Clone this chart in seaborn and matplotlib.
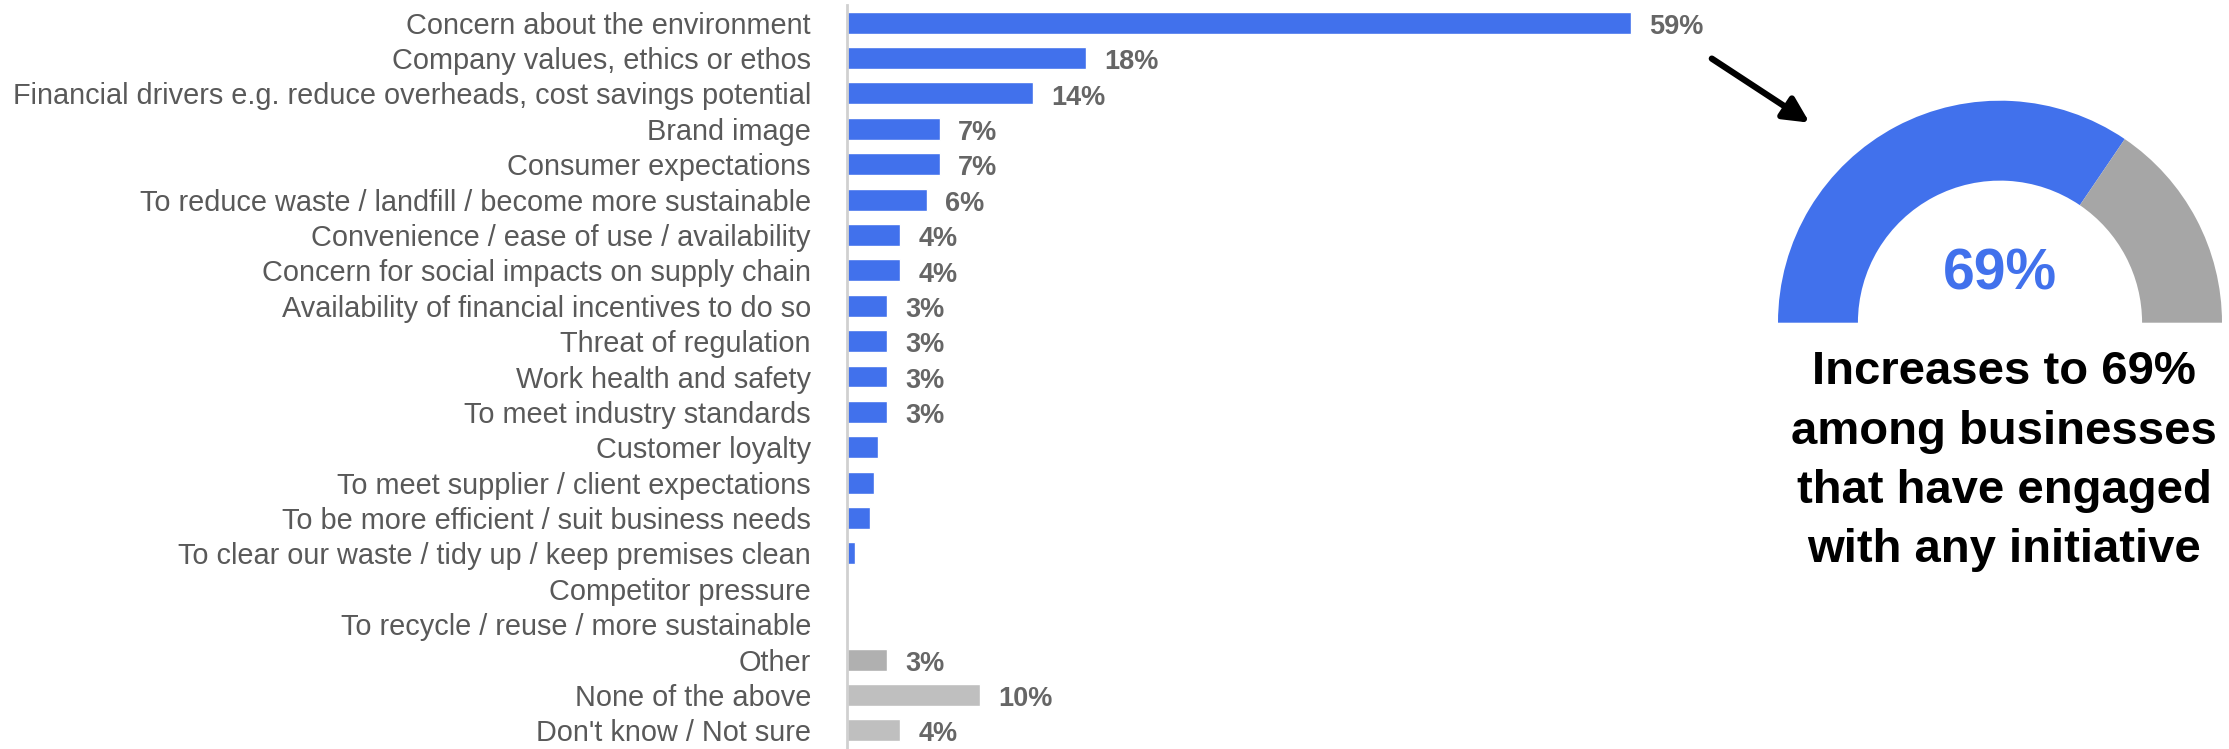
import matplotlib
matplotlib.use("Agg")
import matplotlib.pyplot as plt
import seaborn as sns
import pandas as pd

sns.set_theme(style="white")
plt.rcParams["font.family"] = ["Liberation Sans", "DejaVu Sans"]

# Reasons for taking action (% of businesses)
categories = [
    "Concern about the environment",
    "Company values, ethics or ethos",
    "Financial drivers e.g. reduce overheads, cost savings potential",
    "Brand image",
    "Consumer expectations",
    "To reduce waste / landfill / become more sustainable",
    "Convenience / ease of use / availability",
    "Concern for social impacts on supply chain",
    "Availability of financial incentives to do so",
    "Threat of regulation",
    "Work health and safety",
    "To meet industry standards",
    "Customer loyalty",
    "To meet supplier / client expectations",
    "To be more efficient / suit business needs",
    "To clear our waste / tidy up / keep premises clean",
    "Competitor pressure",
    "To recycle / reuse / more sustainable",
    "Other",
    "None of the above",
    "Don't know / Not sure",
]
values = [59, 18, 14, 7, 7, 6, 4, 4, 3, 3, 3, 3, 2.3, 2.0, 1.7, 0.6, 0, 0, 3, 10, 4]
value_labels = ["59%", "18%", "14%", "7%", "7%", "6%", "4%", "4%", "3%", "3%",
                "3%", "3%", "", "", "", "", "", "", "3%", "10%", "4%"]

# Gauge: share among businesses engaged with any initiative
gauge_values = [69, 31]
gauge_label = "69%"
gauge_text = ["Increases to 69%", "among businesses",
              "that have engaged", "with any initiative"]

BLUE = "#4171EC"
bar_colors = [BLUE] * 18 + ["#B0B0B0", "#BFBFBF", "#BFBFBF"]

W, H = 2229, 749
fig = plt.figure(figsize=(W / 100, H / 100), dpi=100)

# ---- horizontal bar chart ----
ax_left, ax_right = 847, 847 + 65 * 13.29
ax = fig.add_axes([ax_left / W, 1 - 748 / H, (ax_right - ax_left) / W, (748 - 5) / H])

df = pd.DataFrame({"reason": categories, "pct": values})
sns.barplot(data=df, x="pct", y="reason", hue="reason", palette=bar_colors,
            orient="h", width=0.62, legend=False, ax=ax, saturation=1)

ax.set_xlim(0, 65)
ax.set_ylim(len(categories) - 0.5, -0.5)
ax.set_xlabel("")
ax.set_ylabel("")
ax.set_xticks([])
for s in ["top", "right", "bottom"]:
    ax.spines[s].set_visible(False)
ax.spines["left"].set_color("#D0D0D0")
ax.spines["left"].set_linewidth(2)

# category labels, with ticks drawn between categories
ax.set_yticks(range(len(categories)))
ax.set_yticklabels(categories, fontsize=20.8, color="#595959")
ax.tick_params(axis="y", which="major", length=0, pad=26)
ax.set_yticks([i - 0.5 for i in range(len(categories) + 1)], minor=True)
ax.tick_params(axis="y", which="minor", length=5.5, width=1.5, color="#D0D0D0",
               direction="out")

for i, (v, lab) in enumerate(zip(values, value_labels)):
    if lab:
        ax.annotate(lab, xy=(v, i), xytext=(13, -3), textcoords="offset points",
                    va="center", ha="left", fontsize=19.5, fontweight="bold",
                    color="#666666", annotation_clip=False)

# ---- semicircle gauge ----
cx, cy, r_out = 2000, 322.7, 222
gax = fig.add_axes([(cx - r_out) / W, (H - cy - r_out) / H, 2 * r_out / W, 2 * r_out / H])
gax.pie(gauge_values + [sum(gauge_values)], startangle=180, counterclock=False,
        colors=[BLUE, "#A6A6A6", "none"], radius=1,
        wedgeprops=dict(width=0.36, edgecolor="none"))
gax.set_xlim(-1, 1)
gax.set_ylim(-1, 1)
gax.set_aspect("equal")
gax.axis("off")
gax.text(0, 0.215, gauge_label, ha="center", va="center", fontsize=41,
         fontweight="bold", color=BLUE)

# caption below the gauge
for k, line in enumerate(gauge_text):
    fig.text(2004 / W, 1 - (384 + 59.5 * k) / H, line, ha="center", va="baseline",
             fontsize=34, fontweight="bold", color="black")

# arrow pointing to the gauge
fig.add_artist(matplotlib.patches.FancyArrowPatch(
    (1711.8, H - 58.6), (1809.6, H - 122.7), transform=None,
    arrowstyle="-|>", mutation_scale=38, lw=4.5, color="black",
    shrinkA=0, shrinkB=0))

fig.savefig("out.png", dpi=100)
